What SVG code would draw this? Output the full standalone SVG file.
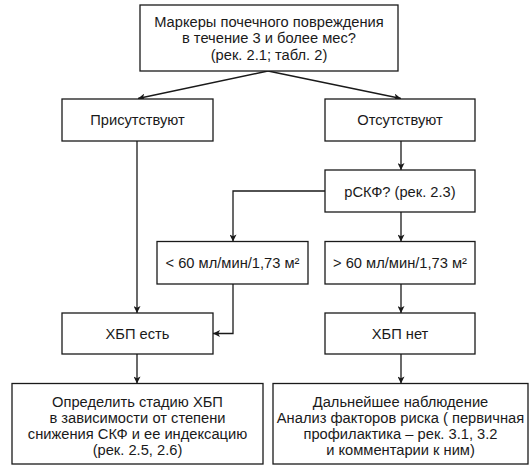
<svg xmlns="http://www.w3.org/2000/svg" width="531" height="473" viewBox="0 0 531 473">
<defs>
<style>
.box{fill:#fff;stroke:#1a1a1a;stroke-width:1.3}
.t{font-family:"Liberation Sans",Arial,sans-serif;font-size:14.7px;fill:#1a1a1a;text-anchor:middle}
.c{fill:none;stroke:#1a1a1a;stroke-width:1.3}
</style>
<marker id="ah" viewBox="0 0 10 10" refX="10" refY="5" markerWidth="9" markerHeight="7" markerUnits="userSpaceOnUse" orient="auto">
<path d="M0,0 L10,5 L0,10 L2.5,5 Z" fill="#1a1a1a"/>
</marker>
</defs>
<rect width="531" height="473" fill="#fff"/>
<g id="connectors">
<line class="c" x1="268" y1="71" x2="138" y2="98.5" marker-end="url(#ah)"/>
<line class="c" x1="268" y1="71" x2="401" y2="98.5" marker-end="url(#ah)"/>
<line class="c" x1="137" y1="141" x2="137" y2="313" marker-end="url(#ah)"/>
<line class="c" x1="401" y1="141" x2="401" y2="170" marker-end="url(#ah)"/>
<polyline class="c" points="325,191 233,191 233,241.5" marker-end="url(#ah)"/>
<line class="c" x1="401" y1="212" x2="401" y2="241.5" marker-end="url(#ah)"/>
<line class="c" x1="401" y1="284" x2="401" y2="313" marker-end="url(#ah)"/>
<polyline class="c" points="233,284 233,333.5 213,333.5" marker-end="url(#ah)"/>
<line class="c" x1="137" y1="354" x2="137" y2="383.5" marker-end="url(#ah)"/>
<line class="c" x1="401" y1="354" x2="401" y2="383.5" marker-end="url(#ah)"/>
</g>
<g id="n-markers">
<rect class="box" x="140" y="5" width="258" height="66"/>
<text class="t" x="269" y="26.5">Маркеры почечного повреждения</text>
<text class="t" x="269" y="43">в течение 3 и более мес?</text>
<text class="t" x="269" y="59.5">(рек. 2.1; табл. 2)</text>
</g>
<g id="n-present">
<rect class="box" x="62" y="99" width="151" height="42"/>
<text class="t" x="137.5" y="125.2">Присутствуют</text>
</g>
<g id="n-absent">
<rect class="box" x="325" y="99" width="150" height="42"/>
<text class="t" x="400" y="125.2">Отсутствуют</text>
</g>
<g id="n-gfr">
<rect class="box" x="325" y="170" width="150" height="42"/>
<text class="t" x="400" y="196.5">рСКФ? (рек. 2.3)</text>
</g>
<g id="n-lt60">
<rect class="box" x="157" y="241.5" width="151" height="42.5"/>
<text class="t" x="232.5" y="268">&lt; 60 мл/мин/1,73 м²</text>
</g>
<g id="n-gt60">
<rect class="box" x="325" y="241.5" width="150" height="42.5"/>
<text class="t" x="400" y="268">&gt; 60 мл/мин/1,73 м²</text>
</g>
<g id="n-ckd-yes">
<rect class="box" x="62" y="313" width="151" height="41"/>
<text class="t" x="137.5" y="338.5">ХБП есть</text>
</g>
<g id="n-ckd-no">
<rect class="box" x="325" y="313" width="150" height="41"/>
<text class="t" x="400" y="338.5">ХБП нет</text>
</g>
<g id="n-stage">
<rect class="box" x="12" y="383.5" width="251" height="80.5"/>
<text class="t" x="137.5" y="406.5">Определить стадию ХБП</text>
<text class="t" x="137.5" y="422.5">в зависимости от степени</text>
<text class="t" x="137.5" y="438.5">снижения СКФ и ее индексацию</text>
<text class="t" x="137.5" y="454.5">(рек. 2.5, 2.6)</text>
</g>
<g id="n-followup">
<rect class="box" x="273" y="383.5" width="255" height="80.5"/>
<text class="t" x="400.5" y="406.5">Дальнейшее наблюдение</text>
<text class="t" x="400.5" y="422.5">Анализ факторов риска ( первичная</text>
<text class="t" x="400.5" y="438.5">профилактика – рек. 3.1, 3.2</text>
<text class="t" x="400.5" y="454.5">и комментарии к ним)</text>
</g>
</svg>
